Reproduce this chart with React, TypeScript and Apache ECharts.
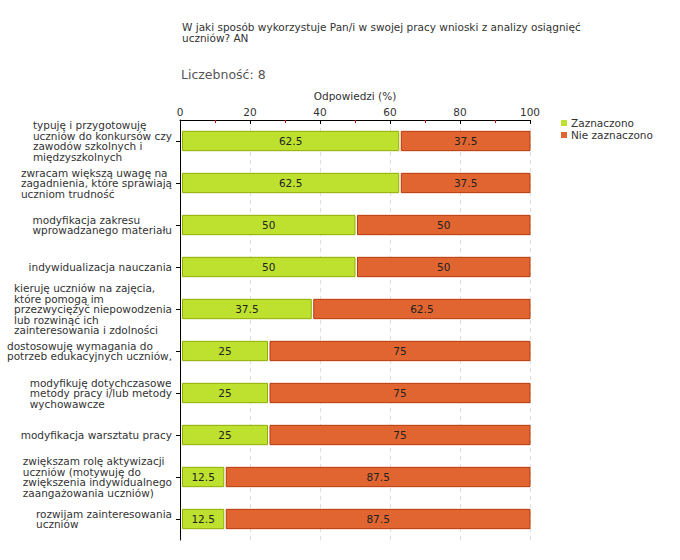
import React, { useEffect, useRef } from "react";
import * as echarts from "echarts";

const categories: string[] = [
  "typuję i przygotowuję\nuczniów do konkursów czy\nzawodów szkolnych i\nmiędzyszkolnych",
  "zwracam większą uwagę na\nzagadnienia, które sprawiają\nuczniom trudność",
  "modyfikacja zakresu\nwprowadzanego materiału",
  "indywidualizacja nauczania",
  "kieruję uczniów na zajęcia,\nktóre pomogą im\nprzezwyciężyć niepowodzenia\nlub rozwinąć ich\nzainteresowania i zdolności",
  "dostosowuję wymagania do\npotrzeb edukacyjnych uczniów,",
  "modyfikuję dotychczasowe\nmetody pracy i/lub metody\nwychowawcze",
  "modyfikacja warsztatu pracy",
  "zwiększam rolę aktywizacji\nuczniów (motywuję do\nzwiększenia indywidualnego\nzaangażowania uczniów)",
  "rozwijam zainteresowania\nuczniów",
];

const zaznaczono: number[] = [62.5, 62.5, 50, 50, 37.5, 25, 25, 25, 12.5, 12.5];
const nieZaznaczono: number[] = [37.5, 37.5, 50, 50, 62.5, 75, 75, 75, 87.5, 87.5];

const seriesNames = ["Zaznaczono", "Nie zaznaczono"];
const titleText = "W jaki sposób wykorzystuje Pan/i w swojej pracy wnioski z analizy osiągnięć\nuczniów? AN";
const countText = "Liczebność: 8";
const axisName = "Odpowiedzi (%)";

const FONT = "DejaVu Sans";
const GREEN = "#bee130";
const GREEN_BORDER = "#8fae00";
const ORANGE = "#e06530";
const ORANGE_BORDER = "#b83a0a";

function makeSeries(name: string, values: number[], offsets: number[], fill: string, stroke: string) {
  const data = values.map((v, i) => [i, offsets[i], offsets[i] + v, v]);
  return {
    name,
    type: "custom",
    xAxisIndex: 1,
    itemStyle: { color: fill, borderColor: stroke },
    encode: { x: [1, 2], y: 0 },
    data,
    renderItem: (params: any, api: any) => {
      const cat = api.value(0);
      const s = api.value(1);
      const e = api.value(2);
      const v = api.value(3);
      const p0 = api.coord([s, cat]);
      const p1 = api.coord([e, cat]);
      const h = api.size([0, 1])[1] * 0.46;
      const x = p0[0] + 2.5;
      const w = p1[0] - x;
      return {
        type: "group",
        children: [
          {
            type: "rect",
            shape: { x: x, y: p0[1] - h / 2, width: w, height: h },
            style: { fill, stroke, lineWidth: 1 },
          },
          {
            type: "text",
            x: (x + p1[0]) / 2,
            y: p0[1],
            style: {
              text: String(v),
              fill: "#222",
              font: `10.5px "${FONT}"`,
              align: "center",
              verticalAlign: "middle",
            },
          },
        ],
      };
    },
  };
}

export default function App() {
  const ref = useRef<HTMLDivElement>(null);
  useEffect(() => {
    document.body.style.margin = "0";
    const chart = echarts.init(ref.current!, null, { renderer: "svg" });
    const zeros = zaznaczono.map(() => 0);
    chart.setOption({
      animation: false,
      backgroundColor: "#fff",
      textStyle: { fontFamily: FONT },
      title: [
        {
          text: titleText,
          left: 177,
          top: 16,
          textStyle: { fontSize: 10.5, fontWeight: "normal", color: "#333", lineHeight: 11, fontFamily: FONT },
        },
        {
          text: countText,
          left: 176,
          top: 63,
          textStyle: { fontSize: 12.5, fontWeight: "normal", color: "#555", fontFamily: FONT },
        },
      ],
      legend: {
        orient: "vertical",
        left: 556,
        top: 112,
        itemWidth: 6,
        itemHeight: 6,
        itemGap: 0,
        icon: "rect",
        textStyle: { fontSize: 10.5, color: "#333", fontFamily: FONT, padding: [0, 0, 0, -1], lineHeight: 12 },
        data: [
          { name: seriesNames[0], itemStyle: { color: GREEN, borderWidth: 0 } },
          { name: seriesNames[1], itemStyle: { color: ORANGE, borderWidth: 0 } },
        ],
      },
      grid: { left: 180, top: 120, width: 350, height: 420 },
      xAxis: [
        {
          type: "value",
          position: "top",
          min: 0,
          max: 100,
          interval: 10,
          axisLine: { show: false },
          axisTick: { show: true, inside: true, length: 3, lineStyle: { color: "#d00" } },
          axisLabel: { show: false },
          splitLine: { show: false },
        },
        {
          type: "value",
          position: "top",
          min: 0,
          max: 100,
          interval: 20,
          name: axisName,
          nameLocation: "middle",
          nameGap: 16,
          nameTextStyle: { fontSize: 10.5, color: "#333", fontFamily: FONT },
          axisLine: { show: true, lineStyle: { color: "#000", width: 1 } },
          axisTick: { show: true, inside: true, length: 4, lineStyle: { color: "#000" } },
          axisLabel: { fontSize: 10.5, color: "#333", margin: 3, fontFamily: FONT },
          splitLine: { show: true, lineStyle: { color: "#ddd", type: [4, 4] } },
        },
      ],
      yAxis: {
        type: "category",
        inverse: true,
        data: categories,
        axisLine: { show: true, lineStyle: { color: "#000", width: 1 } },
        axisTick: { show: true, alignWithLabel: true, length: 4, lineStyle: { color: "#000" } },
        axisLabel: {
          fontSize: 10.5,
          color: "#333",
          margin: 8,
          fontFamily: FONT,
          interval: 0,
          formatter: (v: string) => `{a|${v}}`,
          rich: { a: { align: "left", fontSize: 10.5, lineHeight: 10.5, color: "#333", fontFamily: FONT } },
        },
        splitLine: { show: false },
      },
      series: [
        makeSeries(seriesNames[0], zaznaczono, zeros, GREEN, GREEN_BORDER),
        makeSeries(seriesNames[1], nieZaznaczono, zaznaczono, ORANGE, ORANGE_BORDER),
      ],
    });
    return () => chart.dispose();
  }, []);
  return <div ref={ref} style={{ width: 680, height: 560 }} />;
}
